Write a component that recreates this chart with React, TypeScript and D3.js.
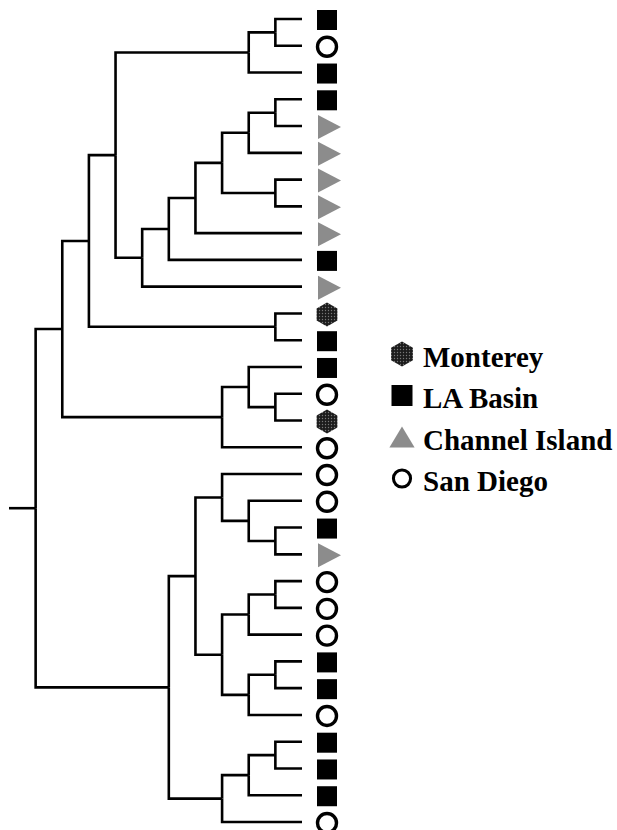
import React from 'react';
import * as d3 from 'd3';

// leaf regions, top to bottom
const leafRegion = ['LA', 'SD', 'LA', 'LA', 'CI', 'CI', 'CI', 'CI', 'CI', 'LA', 'CI', 'MO', 'LA', 'LA', 'SD', 'MO',
  'SD', 'SD', 'SD', 'LA', 'CI', 'SD', 'SD', 'SD', 'LA', 'LA', 'SD', 'LA', 'LA', 'LA', 'SD'];
const leafParent = ['n1', 'n1', 'n2', 'n3', 'n3', 'n4', 'n5', 'n5', 'n7', 'n8', 'n8b', 'n10', 'n10', 'n13', 'n12', 'n12',
  'n14', 'n18', 'n17', 'n16', 'n16', 'n19', 'n19', 'n20', 'n21', 'n21', 'n22', 'n25', 'n25', 'n26', 'n27'];

// internal nodes: id, parent, join level
const nodeIds = ['root', 'n1', 'n2', 'n3', 'n4', 'n5', 'n6', 'n7', 'n8', 'n8b', 'n9', 'n10', 'n11', 'n12', 'n13', 'n14',
  'n15', 'n16', 'n17', 'n18', 'n19', 'n20', 'n21', 'n22', 'n23', 'n24', 'n25', 'n26', 'n27', 'n28'];
const nodeParent = ['', 'n2', 'n9', 'n4', 'n6', 'n6', 'n7', 'n8', 'n8b', 'n9', 'n11', 'n11', 'n15', 'n13', 'n14', 'n15',
  'root', 'n17', 'n18', 'n24', 'n20', 'n23', 'n22', 'n23', 'n24', 'n28', 'n26', 'n27', 'n28', 'root'];
const nodeLevel = [10, 1, 2, 1, 2, 1, 3, 4, 5, 6, 7, 1, 8, 1, 2, 3, 9, 1, 2, 3, 1, 2, 1, 2, 3, 4, 1, 2, 3, 5];

const legendKeys = ['MO', 'LA', 'CI', 'SD'];
const legendLabels = ['Monterey', 'LA Basin', 'Channel Island', 'San Diego'];

type Row = { id: string; parent: string; level: number; idx: number; region?: string };

function Symbol({ region, x, y, s = 1, up = false }: { region: string; x: number; y: number; s?: number; up?: boolean }) {
  if (region === 'LA') {
    return <rect x={x - 10 * s} y={y - 10 * s} width={20 * s} height={20 * s} fill="#000" />;
  }
  if (region === 'SD') {
    return <circle cx={x} cy={y} r={9.5 * s} fill="#fff" stroke="#000" strokeWidth={3.4 * s} />;
  }
  if (region === 'CI') {
    const pts = up
      ? [[x - 12 * s, y + 10 * s], [x + 12 * s, y + 10 * s], [x, y - 10 * s]]
      : [[x - 9 * s, y - 12 * s], [x - 9 * s, y + 12 * s], [x + 14 * s, y]];
    return <polygon points={pts.map(p => p.join(',')).join(' ')} fill="#8c8c8c" />;
  }
  const r = 12 * s;
  const hex = d3.range(6).map(i => {
    const a = (Math.PI / 3) * i - Math.PI / 2;
    return [x + r * Math.cos(a), y + r * Math.sin(a)].join(',');
  });
  return <polygon points={hex.join(' ')} fill="url(#dots)" />;
}

export default function App() {
  const rows: Row[] = [
    ...nodeIds.map((id, i) => ({ id, parent: nodeParent[i], level: nodeLevel[i], idx: -1 })),
    ...leafRegion.map((region, i) => ({ id: 'L' + i, parent: leafParent[i], level: 0, idx: i, region })),
  ];
  const root = d3.stratify<Row>()
    .id(d => d.id)
    .parentId(d => d.parent || null)(rows);

  const minLeaf = (n: d3.HierarchyNode<Row>) => d3.min(n.leaves(), l => l.data.idx) as number;
  root.sort((a, b) => minLeaf(a) - minLeaf(b));

  const x = d3.scaleLinear().domain([0, 11]).range([302, 9]);
  const y = d3.scaleLinear().domain([0, leafRegion.length - 1]).range([19, 822]);

  const pos = new Map<d3.HierarchyNode<Row>, number>();
  root.eachAfter(n => {
    if (!n.children) pos.set(n, y(n.data.idx));
    else pos.set(n, d3.mean(n.children, c => pos.get(c)) as number);
  });

  const links = root.links().map(({ source, target }) =>
    `M${x(source.data.level)},${pos.get(source)}V${pos.get(target)}H${x(target.data.level)}`);

  const leaves = root.leaves();

  return (
    <svg width={617} height={830} style={{ position: 'absolute', left: 0, top: 0, background: '#fff' }}>
      <defs>
        <pattern id="dots" width={3} height={3} patternUnits="userSpaceOnUse">
          <rect width={3} height={3} fill="#1c1c1c" />
          <circle cx={1.5} cy={1.5} r={0.7} fill="#777" />
        </pattern>
      </defs>
      <g fill="none" stroke="#000" strokeWidth={2.6}>
        {links.map((d, i) => <path key={i} d={d} />)}
        <path d={`M${x(11)},${pos.get(root)}H${x(10)}`} />
      </g>
      {leaves.map(l => (
        <Symbol key={l.data.id} region={l.data.region as string} x={327} y={(pos.get(l) as number) + 1} />
      ))}
      <g fontFamily="'Liberation Serif', serif" fontWeight="bold" fontSize={29}>
        {legendKeys.map((k, i) => (
          <g key={k}>
            <Symbol region={k} x={402} y={354 + i * 41.5} s={k === 'SD' ? 0.9 : 1.05} up />
            <text x={423} y={367 + i * 41.3} fill="#000">{legendLabels[i]}</text>
          </g>
        ))}
      </g>
    </svg>
  );
}
